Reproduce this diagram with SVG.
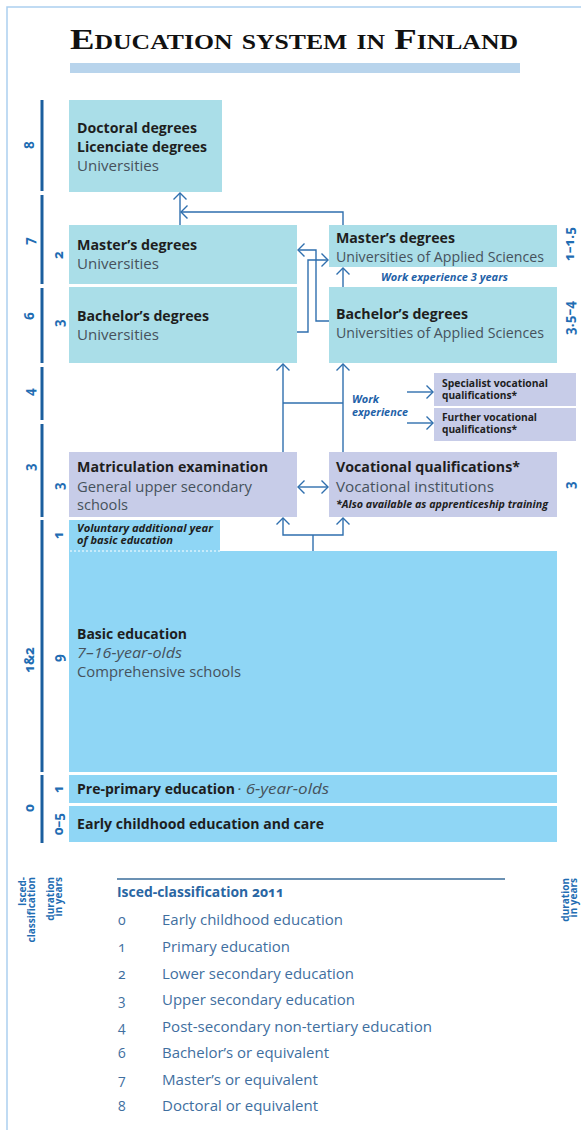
<svg xmlns="http://www.w3.org/2000/svg" width="581" height="1130" viewBox="0 0 581 1130">
  <style>
    .title { font-family: "Liberation Serif", serif; font-weight: bold; font-size: 30px; font-variant: small-caps; fill: #111; }
    .hd { font-family: "Open Sans", sans-serif; font-weight: 700; font-size: 14.5px; fill: #1e1e1e; }
    .sub { font-family: "Open Sans", sans-serif; font-size: 14.5px; fill: #46525c; }
    .subi { font-family: "Open Sans", sans-serif; font-style: italic; font-size: 14.5px; fill: #46525c; }
    .note { font-family: "Open Sans", sans-serif; font-weight: 700; font-style: italic; font-size: 10.5px; fill: #1e1e1e; }
    .small { font-family: "Open Sans", sans-serif; font-weight: 700; font-size: 9.8px; fill: #1e1e1e; }
    .blue-it { font-family: "Open Sans", sans-serif; font-weight: 700; font-style: italic; font-size: 10.5px; fill: #1f62a8; }
    .lvl { font-family: "Open Sans", sans-serif; font-weight: 700; font-size: 13.5px; fill: #1f6db3; text-anchor: middle; dominant-baseline: central; font-variant-numeric: oldstyle-nums; }
    .axis { font-family: "Open Sans", sans-serif; font-weight: 700; font-size: 10px; fill: #1f6db3; text-anchor: end; }
    .leg-h { font-family: "Open Sans", sans-serif; font-weight: 700; font-size: 13.5px; fill: #2a66a3; font-variant-numeric: oldstyle-nums; }
    .leg { font-family: "Open Sans", sans-serif; font-size: 14.5px; fill: #3f6f9f; }
    .leg-n { font-family: "Open Sans", sans-serif; font-size: 14px; fill: #3f6f9f; font-variant-numeric: oldstyle-nums; }
    .teal { fill: #aadee8; }
    .lav { fill: #c7cce8; }
    .sky { fill: #8fd6f5; }
    .bar { stroke: #1b5e9e; stroke-width: 3; }
    .conn path { fill: none; stroke: #2f6fae; stroke-width: 1.4; }
  </style>
  <defs>
    <marker id="arr" markerUnits="userSpaceOnUse" viewBox="-8 -8 10 16" refX="0" refY="0" markerWidth="10" markerHeight="16" orient="auto-start-reverse">
      <path d="M-6.5,-6.5 L0,0 L-6.5,6.5" fill="none" stroke="#2f6fae" stroke-width="1.4"/>
    </marker>
  </defs>

  <!-- page frame -->
  <path d="M7,1130 V7 H581" fill="none" stroke="#acd0ef" stroke-width="1.5"/>

  <!-- heading -->
  <g id="heading">
    <text class="title" x="70" y="49" textLength="448" lengthAdjust="spacingAndGlyphs">Education system in Finland</text>
    <rect x="70" y="63" width="450" height="10" fill="#b8d4ec"/>
  </g>

  <!-- ISCED level bars -->
  <g id="level-bars">
    <line class="bar" x1="42" y1="100" x2="42" y2="191"/>
    <line class="bar" x1="42" y1="195" x2="42" y2="284"/>
    <line class="bar" x1="42" y1="288" x2="42" y2="363"/>
    <line class="bar" x1="42" y1="367" x2="42" y2="420"/>
    <line class="bar" x1="42" y1="424" x2="42" y2="517"/>
    <line class="bar" x1="42" y1="520" x2="42" y2="772"/>
    <line class="bar" x1="42" y1="775" x2="42" y2="843"/>
  </g>

  <!-- ISCED level numbers -->
  <g id="level-labels">
    <text class="lvl" transform="translate(29,145) rotate(-90)">8</text>
    <text class="lvl" transform="translate(29,241) rotate(-90)">7</text>
    <text class="lvl" transform="translate(29,316) rotate(-90)">6</text>
    <text class="lvl" transform="translate(29,392) rotate(-90)">4</text>
    <text class="lvl" transform="translate(29,467) rotate(-90)">3</text>
    <text class="lvl" transform="translate(29,660) rotate(-90)">1&amp;2</text>
    <text class="lvl" transform="translate(29,808) rotate(-90)">0</text>
  </g>

  <!-- durations in years -->
  <g id="duration-labels">
    <text class="lvl" transform="translate(58,255) rotate(-90)">2</text>
    <text class="lvl" transform="translate(58,323) rotate(-90)">3</text>
    <text class="lvl" transform="translate(58,486) rotate(-90)">3</text>
    <text class="lvl" transform="translate(58,535) rotate(-90)">1</text>
    <text class="lvl" transform="translate(58,658) rotate(-90)">9</text>
    <text class="lvl" transform="translate(58,789) rotate(-90)">1</text>
    <text class="lvl" transform="translate(58,824) rotate(-90)">0–5</text>
    <text class="lvl" transform="translate(569,244) rotate(-90)">1–1.5</text>
    <text class="lvl" transform="translate(569,318) rotate(-90)">3.5–4</text>
    <text class="lvl" transform="translate(569,485) rotate(-90)">3</text>
  </g>

  <!-- nodes -->
  <g id="doctoral">
    <rect class="teal" x="69" y="100" width="153" height="92"/>
    <text class="hd" x="77" y="133" textLength="120" lengthAdjust="spacingAndGlyphs">Doctoral degrees</text>
    <text class="hd" x="77" y="152" textLength="130" lengthAdjust="spacingAndGlyphs">Licenciate degrees</text>
    <text class="sub" x="77" y="171" textLength="82" lengthAdjust="spacingAndGlyphs">Universities</text>
  </g>

  <g id="masters-univ">
    <rect class="teal" x="69" y="225" width="228" height="59"/>
    <text class="hd" x="77" y="250" textLength="120" lengthAdjust="spacingAndGlyphs">Master’s degrees</text>
    <text class="sub" x="77" y="269" textLength="82" lengthAdjust="spacingAndGlyphs">Universities</text>
  </g>

  <g id="bachelors-univ">
    <rect class="teal" x="69" y="287" width="228" height="76"/>
    <text class="hd" x="77" y="321" textLength="132" lengthAdjust="spacingAndGlyphs">Bachelor’s degrees</text>
    <text class="sub" x="77" y="340" textLength="82" lengthAdjust="spacingAndGlyphs">Universities</text>
  </g>

  <g id="masters-uas">
    <rect class="teal" x="329" y="225" width="228" height="42"/>
    <text class="hd" x="336" y="243" textLength="119" lengthAdjust="spacingAndGlyphs">Master’s degrees</text>
    <text class="sub" x="336" y="262" textLength="208" lengthAdjust="spacingAndGlyphs">Universities of Applied Sciences</text>
  </g>

  <g id="work-experience-3">
    <text class="blue-it" x="381" y="281" textLength="127" lengthAdjust="spacingAndGlyphs">Work experience 3 years</text>
  </g>

  <g id="bachelors-uas">
    <rect class="teal" x="329" y="287" width="228" height="76"/>
    <text class="hd" x="336" y="319" textLength="132" lengthAdjust="spacingAndGlyphs">Bachelor’s degrees</text>
    <text class="sub" x="336" y="338" textLength="208" lengthAdjust="spacingAndGlyphs">Universities of Applied Sciences</text>
  </g>

  <g id="work-experience">
    <text class="blue-it" x="352" y="403" textLength="27" lengthAdjust="spacingAndGlyphs">Work</text>
    <text class="blue-it" x="352" y="416" textLength="56" lengthAdjust="spacingAndGlyphs">experience</text>
  </g>

  <g id="specialist-vocational">
    <rect class="lav" x="434" y="373" width="142" height="33"/>
    <text class="small" x="442" y="387" textLength="106" lengthAdjust="spacingAndGlyphs">Specialist vocational</text>
    <text class="small" x="442" y="399" textLength="75" lengthAdjust="spacingAndGlyphs">qualifications*</text>
  </g>

  <g id="further-vocational">
    <rect class="lav" x="434" y="408" width="142" height="33"/>
    <text class="small" x="442" y="421" textLength="95" lengthAdjust="spacingAndGlyphs">Further vocational</text>
    <text class="small" x="442" y="433" textLength="75" lengthAdjust="spacingAndGlyphs">qualifications*</text>
  </g>

  <g id="matriculation">
    <rect class="lav" x="69" y="452" width="228" height="65"/>
    <text class="hd" x="77" y="472" textLength="191" lengthAdjust="spacingAndGlyphs">Matriculation examination</text>
    <text class="sub" x="77" y="492" textLength="175" lengthAdjust="spacingAndGlyphs">General upper secondary</text>
    <text class="sub" x="77" y="510" textLength="51" lengthAdjust="spacingAndGlyphs">schools</text>
  </g>

  <g id="vocational">
    <rect class="lav" x="329" y="452" width="228" height="65"/>
    <text class="hd" x="336" y="472" textLength="184" lengthAdjust="spacingAndGlyphs">Vocational qualifications*</text>
    <text class="sub" x="336" y="492" textLength="158" lengthAdjust="spacingAndGlyphs">Vocational institutions</text>
    <text class="note" x="336" y="508" textLength="212" lengthAdjust="spacingAndGlyphs">*Also available as apprenticeship training</text>
  </g>

  <g id="voluntary-year">
    <rect class="sky" x="69" y="520" width="151" height="32"/>
    <text class="note" x="77" y="532" textLength="136" lengthAdjust="spacingAndGlyphs">Voluntary additional year</text>
    <text class="note" x="77" y="544" textLength="96" lengthAdjust="spacingAndGlyphs">of basic education</text>
  </g>

  <g id="basic-education">
    <rect class="sky" x="69" y="551" width="488" height="221"/>
    <line x1="70" y1="551" x2="220" y2="551" stroke="#ffffff" stroke-width="1.2" stroke-dasharray="2 2"/>
    <text class="hd" x="77" y="639" textLength="110" lengthAdjust="spacingAndGlyphs">Basic education</text>
    <text class="subi" x="77" y="658" textLength="105" lengthAdjust="spacingAndGlyphs">7–16-year-olds</text>
    <text class="sub" x="77" y="677" textLength="164" lengthAdjust="spacingAndGlyphs">Comprehensive schools</text>
  </g>

  <g id="pre-primary">
    <rect class="sky" x="69" y="775" width="488" height="28"/>
    <text class="hd" x="77" y="794" textLength="158" lengthAdjust="spacingAndGlyphs">Pre-primary education</text>
    <text class="subi" x="237" y="794" textLength="92" lengthAdjust="spacingAndGlyphs">· 6-year-olds</text>
  </g>

  <g id="early-childhood">
    <rect class="sky" x="69" y="806" width="488" height="36"/>
    <text class="hd" x="77" y="829" textLength="247" lengthAdjust="spacingAndGlyphs">Early childhood education and care</text>
  </g>

  <!-- connectors -->
  <g id="connectors" class="conn">
    <path d="M180,225 V193" marker-end="url(#arr)"/>
    <path d="M343,225 V212 H181" marker-end="url(#arr)"/>
    <path d="M329,321 H316 V250 H298" marker-end="url(#arr)"/>
    <path d="M297,332 H308 V260 H328" marker-end="url(#arr)"/>
    <path d="M343,287 V268" marker-end="url(#arr)"/>
    <path d="M283,452 V364" marker-end="url(#arr)"/>
    <path d="M343,452 V364" marker-end="url(#arr)"/>
    <path d="M283,403 H343"/>
    <path d="M298,487 H328" marker-start="url(#arr)" marker-end="url(#arr)"/>
    <path d="M313,551 V535"/>
    <path d="M313,535 H283 V518" marker-end="url(#arr)"/>
    <path d="M313,535 H343 V518" marker-end="url(#arr)"/>
    <path d="M407,392 H433" marker-end="url(#arr)"/>
    <path d="M407,423 H433" marker-end="url(#arr)"/>
  </g>

  <!-- axis captions -->
  <g id="axis-captions">
    <g transform="translate(26,877) rotate(-90)">
      <text class="axis" x="0" y="0">Isced-</text>
      <text class="axis" x="0" y="9">classification</text>
    </g>
    <g transform="translate(54,877) rotate(-90)">
      <text class="axis" x="0" y="0">duration</text>
      <text class="axis" x="0" y="8">in years</text>
    </g>
    <g transform="translate(569,878) rotate(-90)">
      <text class="axis" x="0" y="0">duration</text>
      <text class="axis" x="0" y="8">in years</text>
    </g>
  </g>

  <!-- ISCED legend -->
  <g id="legend">
    <line x1="117" y1="879" x2="505" y2="879" stroke="#3a6d9a" stroke-width="1.5"/>
    <text class="leg-h" x="117" y="897" textLength="167" lengthAdjust="spacingAndGlyphs">Isced-classification 2011</text>
    <text class="leg-n" x="118" y="925">0</text>
    <text class="leg" x="162" y="925" textLength="181" lengthAdjust="spacingAndGlyphs">Early childhood education</text>
    <text class="leg-n" x="118" y="952">1</text>
    <text class="leg" x="162" y="952" textLength="128" lengthAdjust="spacingAndGlyphs">Primary education</text>
    <text class="leg-n" x="118" y="979">2</text>
    <text class="leg" x="162" y="979" textLength="192" lengthAdjust="spacingAndGlyphs">Lower secondary education</text>
    <text class="leg-n" x="118" y="1005">3</text>
    <text class="leg" x="162" y="1005" textLength="193" lengthAdjust="spacingAndGlyphs">Upper secondary education</text>
    <text class="leg-n" x="118" y="1032">4</text>
    <text class="leg" x="162" y="1032" textLength="270" lengthAdjust="spacingAndGlyphs">Post-secondary non-tertiary education</text>
    <text class="leg-n" x="118" y="1058">6</text>
    <text class="leg" x="162" y="1058" textLength="167" lengthAdjust="spacingAndGlyphs">Bachelor’s or equivalent</text>
    <text class="leg-n" x="118" y="1085">7</text>
    <text class="leg" x="162" y="1085" textLength="156" lengthAdjust="spacingAndGlyphs">Master’s or equivalent</text>
    <text class="leg-n" x="118" y="1111">8</text>
    <text class="leg" x="162" y="1111" textLength="156" lengthAdjust="spacingAndGlyphs">Doctoral or equivalent</text>
  </g>
</svg>
